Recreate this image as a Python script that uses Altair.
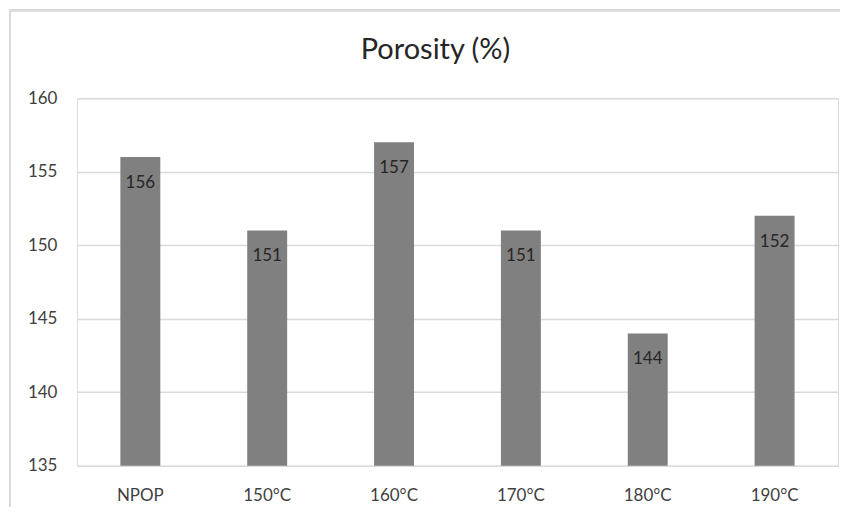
import altair as alt
import pandas as pd

categories = ["NPOP", "150°C", "160°C", "170°C", "180°C", "190°C"]
values = [156, 151, 157, 151, 144, 152]
y_ticks = [135, 140, 145, 150, 155, 160]
chart_title = "Porosity (%)"

df = pd.DataFrame({"cat": categories, "val": values})

FONT = "Lato"
W, H = 762, 368

xenc = alt.X("cat:N", sort=categories, title=None,
             scale=alt.Scale(paddingInner=0, paddingOuter=0),
             axis=alt.Axis(labelAngle=0, domain=False, ticks=False, labelPadding=35,
                           labelBaseline="alphabetic",
                           labelFontSize=17, labelColor="#404040", labelFont=FONT))
yenc = alt.Y("val:Q", title=None,
             scale=alt.Scale(domain=[135, 160], nice=False, zero=False),
             axis=alt.Axis(values=y_ticks, domain=False, ticks=False, labelPadding=20,
                           labelFontSize=17, labelColor="#404040", labelFont=FONT,
                           gridColor="#d9d9d9", gridWidth=1.5))

frame = alt.Chart(df).mark_rect(filled=False, stroke="#d9d9d9", strokeWidth=2).encode(
    x=alt.value(-67), x2=alt.value(W + 40), y=alt.value(-88), y2=alt.value(H + 80)
)

title = alt.Chart(pd.DataFrame({"t": [chart_title]})).mark_text(
    fontSize=29, font=FONT, color="#262626", baseline="alphabetic", align="center"
).encode(x=alt.value(359), y=alt.value(-39), text="t:N")

bars = alt.Chart(df).mark_bar(color="#808080", size=40).encode(
    x=xenc, y=yenc, y2=alt.datum(135)
)

labels = alt.Chart(df).mark_text(baseline="alphabetic", dy=31, fontSize=17,
                                 color="#262626", font=FONT).encode(
    x=alt.X("cat:N", sort=categories), y="val:Q", text="val:Q"
)

chart = alt.layer(frame, bars, labels, title).properties(
    width=W, height=H,
    autosize=alt.AutoSizeParams(type="none"),
    padding={"left": 69, "top": 90, "right": 2, "bottom": 41},
).configure_view(stroke=None).configure(background="white")

chart.save("out.html", embed_options={"renderer": "svg", "actions": False})
